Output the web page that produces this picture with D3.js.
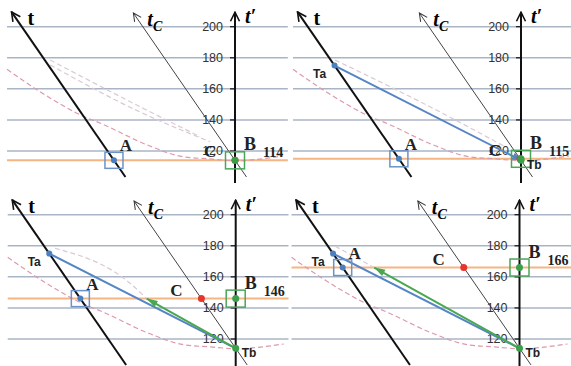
<!DOCTYPE html>
<html>
<head>
<meta charset="utf-8">
<script src="https://cdn.jsdelivr.net/npm/d3@7"></script>
<style>
  body { margin: 0; background: #fff; }
</style>
</head>
<body>
<div id="chart"></div>
<script>
//************* data (u = horizontal units, v = t' value) ***************/
var tickValues = [120, 140, 160, 180, 200];
var bValues = [114, 115, 146, 166];
var taValue = 175,
    tbValue = 114;
var tAxisEnds  = [[-70.5, 103.3], [-143.8, 209.5]];
var tcAxisEnds = [[7.4, 103.3], [-65.4, 208.8]];
var showTaTb = [false, true, true, true];
var blueHead = [false, true, false, false];
var greenTips = [null, null, [-57.3, 146], [-93.5, 166]];
var pinkCurve = [[-146.7, 172.6], [-125.5, 158.2], [-96.5, 141.9], [-86.9, 138.0],
                 [-54.7, 123.2], [-33.5, 116.3], [-16.1, 114.9], [0, 113.8], [30.9, 116.8]];
var lightDashes = [
  [[[-119, 178.6], [-61.1, 148.5], [-22.5, 129.2]], [[-119, 175.4], [-61.1, 145.1], [-16.1, 126.0]]],
  [[[-119.7, 178.6], [-58.6, 148.5], [-9.7, 122.5]]],
  [[[-116.3, 178.4], [-68, 155.9], [-57.3, 146]]],
  [[[-118.6, 179.7], [-93.5, 166]]]
];

//************* layout ***************/
var W = 571, H = 366;
var panels = [
  {ox: 0,   oy: 0,   w: 290, ax: 235,   top: 26.7},
  {ox: 286, oy: 0,   w: 285, ax: 521,   top: 26.7},
  {ox: 0,   oy: 183, w: 290, ax: 235.7, top: 214.7},
  {ox: 286, oy: 183, w: 285, ax: 519.5, top: 214.7}
];
var pxPerUnit = 1.554;

var svg = d3.select("#chart").append("svg")
    .attr("width", W)
    .attr("height", H);

var defs = svg.append("defs");

function marker(id, d, fill, stroke, sw) {
  defs.append("marker")
      .attr("id", id)
      .attr("viewBox", "-12 -6 13 12")
      .attr("refX", 0).attr("refY", 0)
      .attr("markerWidth", 13).attr("markerHeight", 12)
      .attr("markerUnits", "userSpaceOnUse")
      .attr("orient", "auto")
    .append("path")
      .attr("d", d)
      .attr("fill", fill)
      .attr("stroke", stroke)
      .attr("stroke-width", sw);
}
marker("axArrow", "M-9,-4.5L0,0L-9,4.5", "none", "#111", 1.6);
marker("axArrowThin", "M-8,-4L0,0L-8,4", "none", "#333", 1);
marker("blueArrow", "M-9,-4L0,0L-9,4Z", "#5585c5", "none", 0);
marker("greenArrow", "M-11,-3.5L0,0L-11,3.5Z", "#49a84f", "none", 0);

function onLine(ends, v) {
  var a = ends[0], b = ends[1];
  return [a[0] + (v - a[1]) / (b[1] - a[1]) * (b[0] - a[0]), v];
}

panels.forEach(function(p, i) {
  var x = d3.scaleLinear().domain([0, 100]).range([p.ax, p.ax + 100 * pxPerUnit]);
  var y = d3.scaleLinear().domain([200, 120]).range([p.top, p.top + 80 * pxPerUnit]);
  var line = d3.line().x(function(d) { return x(d[0]); }).y(function(d) { return y(d[1]); });
  var curve = d3.line().x(function(d) { return x(d[0]); }).y(function(d) { return y(d[1]); })
      .curve(d3.curveMonotoneX);

  defs.append("clipPath").attr("id", "clip" + i)
    .append("rect")
      .attr("x", p.ox).attr("y", p.oy)
      .attr("width", p.w).attr("height", 183);

  var g = svg.append("g").attr("clip-path", "url(#clip" + i + ")");

  var bv = bValues[i];
  var A = onLine(tAxisEnds, bv);
  var C = onLine(tcAxisEnds, bv);
  var B = [0, bv];
  var Ta = onLine(tAxisEnds, taValue);
  var Tb = [0, tbValue];

  // gridlines
  g.append("g").selectAll("line")
    .data(tickValues)
    .enter().append("line")
      .attr("x1", x(-146.7)).attr("x2", x(34))
      .attr("y1", function(d) { return y(d); })
      .attr("y2", function(d) { return y(d); })
      .attr("stroke", "#a9b5c4")
      .attr("stroke-width", 1.5);

  // orange level of B
  g.append("line")
      .attr("x1", x(-146.7)).attr("x2", x(34))
      .attr("y1", y(bv)).attr("y2", y(bv))
      .attr("stroke", "#f5b583")
      .attr("stroke-width", 2);

  // dashed curves
  g.append("path")
      .attr("d", curve(pinkCurve))
      .attr("fill", "none")
      .attr("stroke", "#dc9aaa")
      .attr("stroke-width", 1.2)
      .attr("stroke-dasharray", "5,3");

  g.append("g").selectAll("path")
    .data(lightDashes[i])
    .enter().append("path")
      .attr("d", function(d) { return curve(d); })
      .attr("fill", "none")
      .attr("stroke", "#d9cad3")
      .attr("stroke-width", 1.2)
      .attr("stroke-dasharray", "5,3");

  // axes
  g.append("line")
      .attr("x1", x(0)).attr("y1", y(95))
      .attr("x2", x(0)).attr("y2", y(209.3))
      .attr("stroke", "#111").attr("stroke-width", 2)
      .attr("marker-end", "url(#axArrow)");

  g.append("path")
      .attr("d", line(tcAxisEnds))
      .attr("stroke", "#444").attr("stroke-width", 1)
      .attr("marker-end", "url(#axArrowThin)");

  g.append("path")
      .attr("d", line(tAxisEnds))
      .attr("stroke", "#111").attr("stroke-width", 2)
      .attr("marker-end", "url(#axArrow)");

  // ticks
  var tk = g.append("g").selectAll("g")
    .data(tickValues)
    .enter().append("g");
  tk.append("line")
      .attr("x1", x(0) - 5).attr("x2", x(0))
      .attr("y1", function(d) { return y(d); })
      .attr("y2", function(d) { return y(d); })
      .attr("stroke", "#111").attr("stroke-width", 1.2);
  tk.append("text")
      .attr("x", x(0) - 12)
      .attr("y", function(d) { return y(d); })
      .attr("dy", "0.35em")
      .attr("text-anchor", "end")
      .style("font-family", "Liberation Sans, Arial, sans-serif")
      .style("font-size", "12.5px")
      .style("fill", "#333")
      .text(function(d) { return d; });

  // axis labels
  var tTop = tAxisEnds[1], tcTop = tcAxisEnds[1];
  g.append("text")
      .attr("x", x(tTop[0]) + 16).attr("y", y(tTop[1]) + 13)
      .style("font-family", "Liberation Serif, serif")
      .style("font-weight", "bold")
      .style("font-size", "20px")
      .text("t");
  var tc = g.append("text")
      .attr("x", x(tcTop[0]) + 14).attr("y", y(tcTop[1]) + 13)
      .style("font-family", "Liberation Serif, serif")
      .style("font-weight", "bold")
      .style("font-style", "italic")
      .style("font-size", "20px");
  tc.append("tspan").text("t");
  tc.append("tspan").attr("dy", 5).style("font-size", "14px").text("C");
  g.append("text")
      .attr("x", x(0) + 10).attr("y", y(200) - 4)
      .style("font-family", "Liberation Serif, serif")
      .style("font-weight", "bold")
      .style("font-style", "italic")
      .style("font-size", "20px")
      .text("t\u2032");

  // Ta -> Tb and green arrow
  if (showTaTb[i]) {
    g.append("path")
        .attr("d", line([Ta, Tb]))
        .attr("stroke", "#5585c5").attr("stroke-width", 2)
        .attr("marker-end", blueHead[i] ? "url(#blueArrow)" : null);
  }
  if (greenTips[i]) {
    g.append("path")
        .attr("d", line([Tb, greenTips[i]]))
        .attr("stroke", "#49a84f").attr("stroke-width", 2)
        .attr("marker-end", "url(#greenArrow)");
  }

  // boxes
  g.append("rect")
      .attr("x", x(A[0]) - 9).attr("y", y(A[1]) - 8)
      .attr("width", 18).attr("height", 16)
      .attr("fill", "none").attr("stroke", "#6b93c9").attr("stroke-width", 1.5);
  g.append("rect")
      .attr("x", x(B[0]) - 9.5).attr("y", y(B[1]) - 8.5)
      .attr("width", 19).attr("height", 17)
      .attr("fill", "none").attr("stroke", "#4aa657").attr("stroke-width", 1.5);

  // dots
  g.append("circle").attr("cx", x(A[0])).attr("cy", y(A[1])).attr("r", 3).attr("fill", "#4a7fc1");
  g.append("circle").attr("cx", x(C[0])).attr("cy", y(C[1])).attr("r", 3.5).attr("fill", "#e8352a");
  g.append("circle").attr("cx", x(B[0])).attr("cy", y(B[1])).attr("r", 3.5).attr("fill", "#3aa14a");
  if (showTaTb[i]) {
    g.append("circle").attr("cx", x(Ta[0])).attr("cy", y(Ta[1])).attr("r", 3).attr("fill", "#4a7fc1");
    g.append("circle").attr("cx", x(Tb[0])).attr("cy", y(Tb[1])).attr("r", 3.5).attr("fill", "#3aa14a");
  }

  // point labels
  var serifBold = function(sel, size) {
    return sel.style("font-family", "Liberation Serif, serif")
              .style("font-weight", "bold")
              .style("font-size", size)
              .style("fill", "#222");
  };
  serifBold(g.append("text"), "17px")
      .attr("x", x(A[0]) + 12).attr("y", y(A[1]) - 9)
      .attr("text-anchor", "middle").text("A");
  serifBold(g.append("text"), "17px")
      .attr("x", x(C[0]) - 25).attr("y", y(C[1]) - 3)
      .attr("text-anchor", "middle").text("C");
  serifBold(g.append("text"), "18px")
      .attr("x", x(0) + 15).attr("y", y(bv) - 10)
      .attr("text-anchor", "middle").text("B");
  serifBold(g.append("text"), "14px")
      .attr("x", x(0) + 28).attr("y", y(bv) - 3)
      .text(bv);

  if (showTaTb[i]) {
    g.append("text")
        .attr("x", x(Ta[0]) - 15).attr("y", y(Ta[1]) + 12)
        .attr("text-anchor", "middle")
        .style("font-family", "Liberation Sans, Arial, sans-serif")
        .style("font-weight", "bold")
        .style("font-size", "12px")
        .style("fill", "#222")
        .text("Ta");
    g.append("text")
        .attr("x", x(Tb[0]) + 6).attr("y", y(Tb[1]) + 9)
        .style("font-family", "Liberation Sans, Arial, sans-serif")
        .style("font-weight", "bold")
        .style("font-size", "12px")
        .style("fill", "#222")
        .text("Tb");
  }
});
</script>
</body>
</html>
